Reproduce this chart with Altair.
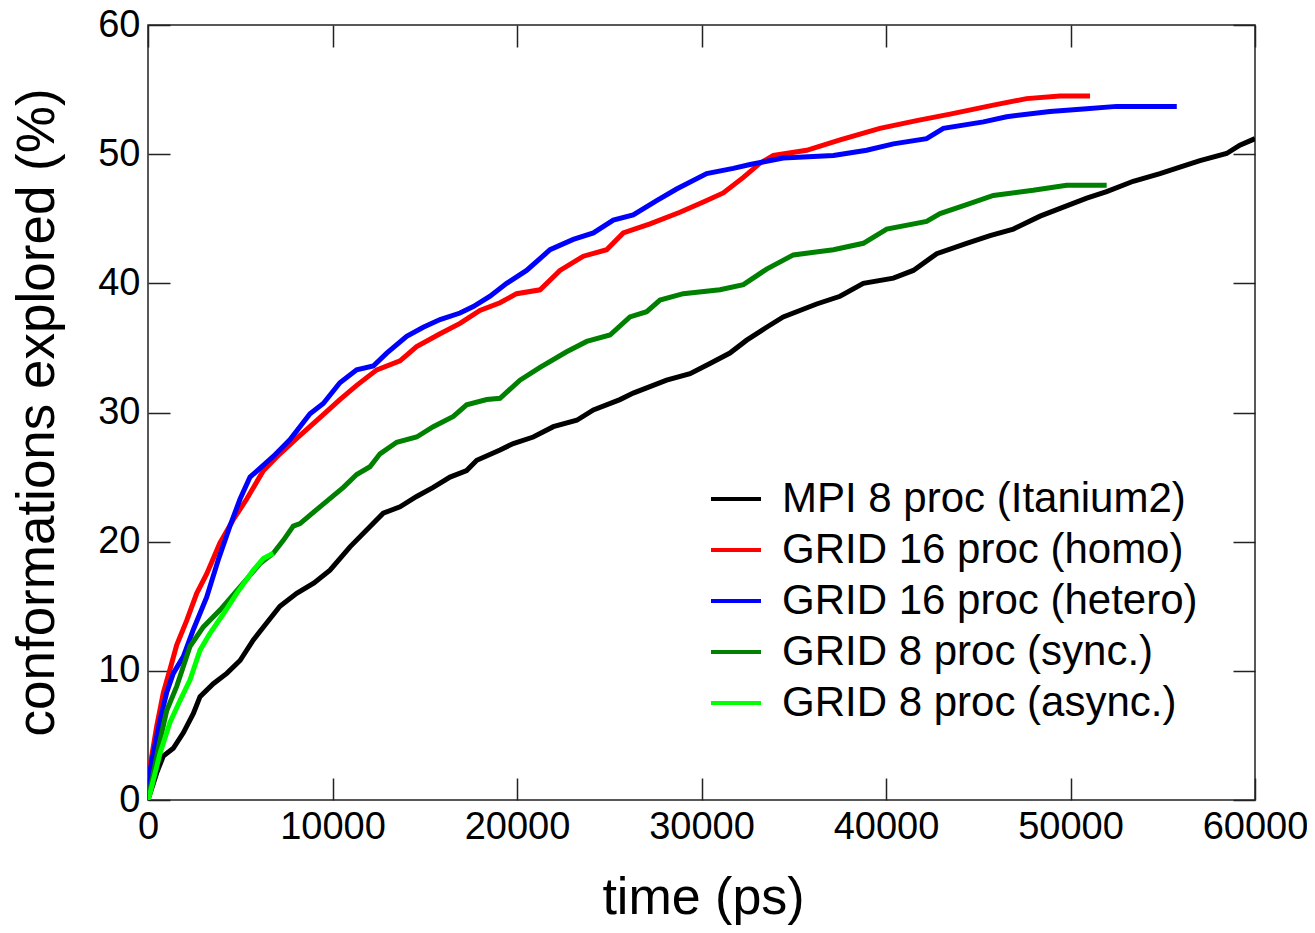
import altair as alt
import pandas as pd

# ---- data (time in ps, conformations explored in %) ----
series_names = [
    "MPI 8 proc (Itanium2)",
    "GRID 16 proc (homo)",
    "GRID 16 proc (hetero)",
    "GRID 8 proc (sync.)",
    "GRID 8 proc (async.)",
]
series_colors = ["#000000", "#ff0000", "#0000ff", "#008000", "#00ff00"]

t_mpi = [0, 470, 830, 1370, 1915, 2460, 2820, 3540, 4270, 4990, 5710, 6430, 7150, 8060, 9000,
         9864, 10950, 11850, 12750, 13660, 14560, 15460, 16370, 17270, 17820, 19080, 19800,
         20880, 21970, 23240, 24140, 25580, 26300, 28110, 29380, 30460, 31540, 32450, 33530,
         34430, 36240, 37510, 38770, 40400, 41480, 42750, 44370, 45640, 46900, 48350, 49790,
         50880, 51960, 53400, 54850, 55930, 57020, 58460, 59180, 60000]
v_mpi = [0, 2.1, 3.4, 4.0, 5.2, 6.7, 8.0, 9.0, 9.8, 10.8, 12.4, 13.7, 15.0, 16.0, 16.8,
         17.8, 19.6, 20.9, 22.2, 22.7, 23.5, 24.2, 25.0, 25.5, 26.3, 27.1, 27.6,
         28.1, 28.9, 29.4, 30.2, 31.0, 31.5, 32.5, 33.0, 33.8, 34.6, 35.6, 36.6,
         37.4, 38.4, 39.0, 40.0, 40.4, 41.0, 42.3, 43.1, 43.7, 44.2, 45.2, 46.0,
         46.6, 47.1, 47.9, 48.5, 49.0, 49.5, 50.05, 50.7, 51.2]

t_homo = [0, 108, 470, 830, 1190, 1555, 2100, 2640, 3180, 3900, 4620, 5350, 6250, 7150, 8060,
          9320, 10400, 11310, 12400, 13660, 14560, 15830, 16910, 17990, 19080, 19980, 21250,
          22330, 23600, 24860, 25760, 27210, 28830, 30100, 31180, 32270, 33170, 33900, 35700,
          37510, 39670, 41660, 43470, 45820, 47620, 49430, 51060]
v_homo = [0, 2.6, 5.7, 8.3, 10.1, 12.0, 13.9, 16.0, 17.5, 19.9, 21.7, 23.3, 25.5, 26.8, 28.0,
          29.6, 31.0, 32.1, 33.3, 34.0, 35.1, 36.1, 36.9, 37.9, 38.5, 39.2, 39.5,
          41.0, 42.1, 42.6, 43.9, 44.6, 45.5, 46.3, 47.0, 48.2, 49.3, 49.9, 50.3,
          51.1, 52.0, 52.6, 53.1, 53.8, 54.3, 54.5, 54.5]

t_hetero = [0, 108, 650, 1010, 1370, 1915, 2460, 3180, 3810, 4440, 4990, 5530, 6790, 7700, 8780,
            9500, 10400, 11310, 12210, 12940, 14020, 14920, 15830, 16910, 17630, 18540, 19440,
            20520, 21790, 23050, 24140, 25220, 26300, 27570, 28650, 30280, 31720, 32630, 34430,
            37150, 38950, 40400, 42200, 43110, 45280, 46540, 48890, 50700, 52500, 55760]
v_hetero = [0, 2.3, 6.2, 8.3, 9.8, 11.1, 13.2, 15.7, 18.6, 21.2, 23.3, 25.0, 26.6, 27.9, 29.9,
            30.7, 32.3, 33.3, 33.6, 34.6, 35.9, 36.6, 37.2, 37.7, 38.2, 39.0, 40.0,
            41.0, 42.6, 43.4, 43.9, 44.9, 45.3, 46.4, 47.3, 48.5, 48.9, 49.2, 49.7,
            49.9, 50.3, 50.8, 51.2, 52.0, 52.5, 52.9, 53.3, 53.5, 53.7, 53.7]

t_sync = [0, 108, 650, 1010, 1555, 2280, 3000, 3900, 4990, 6070, 6790, 7335, 7875, 8240, 9320,
          10590, 11310, 12030, 12575, 13480, 14560, 15460, 16550, 17270, 18360, 19080, 20160,
          21250, 22690, 23780, 25040, 26120, 27030, 27750, 29010, 31000, 32270, 33530, 34980,
          37150, 38770, 40040, 42200, 42930, 44370, 45820, 47980, 49790, 51960]
v_sync = [0, 0.8, 4.6, 6.9, 8.8, 11.9, 13.4, 14.7, 16.5, 18.3, 19.1, 20.1, 21.2, 21.4, 22.7,
          24.2, 25.2, 25.8, 26.8, 27.7, 28.1, 28.9, 29.7, 30.6, 31.0, 31.1, 32.5,
          33.5, 34.7, 35.5, 36.0, 37.4, 37.8, 38.7, 39.2, 39.5, 39.9, 41.1, 42.2,
          42.6, 43.1, 44.2, 44.8, 45.4, 46.1, 46.8, 47.2, 47.6, 47.6]

t_async = [0, 108, 650, 1190, 1735, 2280, 2820, 3360, 4080, 4810, 5710, 6250, 6790]
v_async = [0, 0.5, 3.6, 6.0, 7.7, 9.3, 11.6, 12.9, 14.4, 16.0, 17.8, 18.7, 19.1]

x_ticks = [0, 10000, 20000, 30000, 40000, 50000, 60000]
y_ticks = [0, 10, 20, 30, 40, 50, 60]

all_t = [t_mpi, t_homo, t_hetero, t_sync, t_async]
all_v = [v_mpi, v_homo, v_hetero, v_sync, v_async]

rows = []
for name, ts, vs in zip(series_names, all_t, all_v):
    for i, (t, v) in enumerate(zip(ts, vs)):
        rows.append({"series": name, "time": t, "pct": v, "idx": i})
df = pd.DataFrame(rows)

FONT = "Liberation Sans"
W, H = 1107, 775
TICK = {"expr": "-22"}

xscale = alt.Scale(domain=[0, 60000], nice=False, zero=False)
yscale = alt.Scale(domain=[0, 60], nice=False, zero=False)

lines = alt.Chart(df).mark_line(strokeWidth=5, clip=True).encode(
    x=alt.X("time:Q", scale=xscale,
            axis=alt.Axis(values=x_ticks, format="d", title="time (ps)", grid=False,
                          domain=False, tickSize=TICK, tickWidth=1.5, tickColor="#222",
                          labelFontSize=38, labelFont=FONT, labelColor="#000",
                          labelFlush=False, labelPadding=30, titleFont=FONT,
                          titleFontSize=52, titleFontWeight="normal", titleColor="#000",
                          titleX=555, titleY=113, titleBaseline="alphabetic")),
    y=alt.Y("pct:Q", scale=yscale,
            axis=alt.Axis(values=y_ticks, format="d", title="conformations explored (%)",
                          grid=False, domain=False, tickSize=TICK, tickWidth=1.5,
                          tickColor="#222", labelFontSize=38, labelFont=FONT,
                          labelColor="#000", labelPadding=30, titleFont=FONT,
                          titleFontSize=53, titleFontWeight="normal", titleColor="#000",
                          titleX=-95, titleY=387, titleBaseline="alphabetic")),
    color=alt.Color("series:N",
                    scale=alt.Scale(domain=series_names, range=series_colors),
                    sort=series_names,
                    legend=alt.Legend(title=None, orient="none", legendX=561, legendY=447,
                                      symbolType="stroke", symbolSize=2500,
                                      symbolStrokeWidth=4, labelFontSize=42,
                                      labelFont=FONT, labelColor="#000", labelOffset=19,
                                      rowPadding=3, labelLimit=600)),
    detail="series:N",
    order="idx:Q",
)

frame_axes = alt.Chart(df).mark_line(strokeOpacity=0).encode(
    x=alt.X("time:Q", scale=xscale,
            axis=alt.Axis(values=x_ticks, orient="top", labels=False, title=None,
                          grid=False, domain=False, tickSize=TICK, tickWidth=1.5,
                          tickColor="#222")),
    y=alt.Y("pct:Q", scale=yscale,
            axis=alt.Axis(values=y_ticks, orient="right", labels=False, title=None,
                          grid=False, domain=False, tickSize=TICK, tickWidth=1.5,
                          tickColor="#222")),
    detail="series:N",
)

chart = alt.layer(lines, frame_axes).resolve_axis(
    x="independent", y="independent"
).properties(
    width=W, height=H,
    padding={"left": 140, "top": 17, "right": 52, "bottom": 125},
    autosize=alt.AutoSizeParams(type="none"),
    background="white",
).configure_view(
    stroke="#222", strokeWidth=1.5
)

chart.save("out.html", embed_options={"renderer": "svg", "actions": False})
